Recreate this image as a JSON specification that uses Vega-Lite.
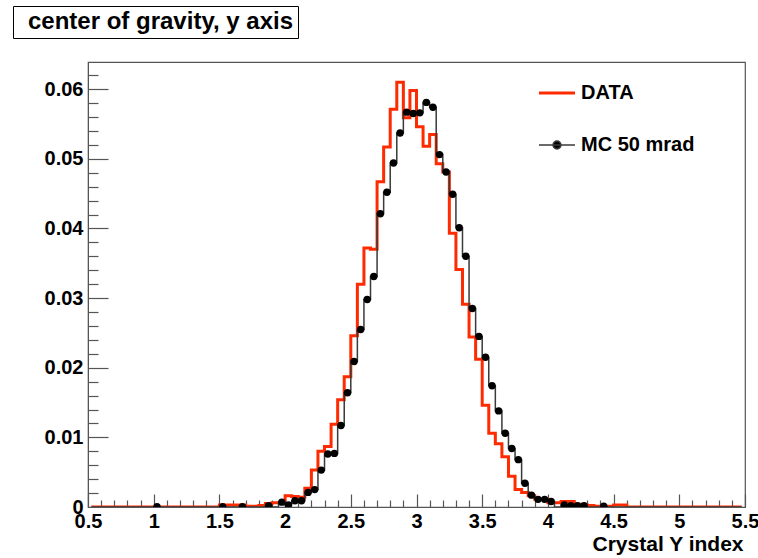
{
  "$schema": "https://vega.github.io/schema/vega-lite/v6.json",
  "width": 657,
  "height": 445,
  "autosize": {"type": "none"},
  "padding": {"left": 88, "top": 62, "right": 13, "bottom": 51},
  "background": "white",
  "data": {"values": [
    {"x":0.525,"data":0,"mc":0},{"x":0.575,"data":0,"mc":0},{"x":0.625,"data":0,"mc":0},{"x":0.675,"data":0,"mc":0},{"x":0.725,"data":0,"mc":0},
    {"x":0.775,"data":0,"mc":0},{"x":0.825,"data":0,"mc":0},{"x":0.875,"data":0,"mc":0},{"x":0.925,"data":0,"mc":0},{"x":0.975,"data":0,"mc":0},
    {"x":1.025,"data":0,"mc":0.00005},{"x":1.075,"data":0,"mc":0},{"x":1.125,"data":0,"mc":0},{"x":1.175,"data":0,"mc":0},{"x":1.225,"data":0,"mc":0},
    {"x":1.275,"data":0,"mc":0},{"x":1.325,"data":0,"mc":0},{"x":1.375,"data":0,"mc":0},{"x":1.425,"data":0,"mc":0},{"x":1.475,"data":0,"mc":0},
    {"x":1.525,"data":0.0003,"mc":0.00005},{"x":1.575,"data":0.0003,"mc":0},{"x":1.625,"data":0.0003,"mc":0},{"x":1.675,"data":0.0003,"mc":0.00005},{"x":1.725,"data":0.0001,"mc":0},
    {"x":1.775,"data":0.0001,"mc":0},{"x":1.825,"data":0.0002,"mc":0},{"x":1.875,"data":0.0005,"mc":0.0002},{"x":1.925,"data":0.0006,"mc":0},{"x":1.975,"data":0.0006,"mc":0.0007},
    {"x":2.025,"data":0.0016,"mc":0.0003},{"x":2.075,"data":0.0015,"mc":0.0009},{"x":2.125,"data":0.0014,"mc":0.0009},{"x":2.175,"data":0.0027,"mc":0.0021},{"x":2.225,"data":0.0053,"mc":0.0025},
    {"x":2.275,"data":0.0080,"mc":0.0053},{"x":2.325,"data":0.0087,"mc":0.0076},{"x":2.375,"data":0.0119,"mc":0.0077},{"x":2.425,"data":0.0154,"mc":0.0117},{"x":2.475,"data":0.0187,"mc":0.0164},
    {"x":2.525,"data":0.0246,"mc":0.0209},{"x":2.575,"data":0.0320,"mc":0.0255},{"x":2.625,"data":0.0372,"mc":0.0298},{"x":2.675,"data":0.0370,"mc":0.0331},{"x":2.725,"data":0.0467,"mc":0.0421},
    {"x":2.775,"data":0.0517,"mc":0.0452},{"x":2.825,"data":0.0571,"mc":0.0494},{"x":2.875,"data":0.0610,"mc":0.0537},{"x":2.925,"data":0.0559,"mc":0.0567},{"x":2.975,"data":0.0598,"mc":0.0565},
    {"x":3.025,"data":0.0546,"mc":0.0566},{"x":3.075,"data":0.0518,"mc":0.0581},{"x":3.125,"data":0.0535,"mc":0.0574},{"x":3.175,"data":0.0493,"mc":0.0506},{"x":3.225,"data":0.0481,"mc":0.0481},
    {"x":3.275,"data":0.0393,"mc":0.0449},{"x":3.325,"data":0.0341,"mc":0.0401},{"x":3.375,"data":0.0291,"mc":0.0360},{"x":3.425,"data":0.0244,"mc":0.0285},{"x":3.475,"data":0.0212,"mc":0.0245},
    {"x":3.525,"data":0.0146,"mc":0.0215},{"x":3.575,"data":0.0106,"mc":0.0174},{"x":3.625,"data":0.0091,"mc":0.0138},{"x":3.675,"data":0.0072,"mc":0.0106},{"x":3.725,"data":0.0044,"mc":0.0084},
    {"x":3.775,"data":0.0025,"mc":0.0068},{"x":3.825,"data":0.0021,"mc":0.0034},{"x":3.875,"data":0.0016,"mc":0.0017},{"x":3.925,"data":0.0011,"mc":0.0011},{"x":3.975,"data":0.0011,"mc":0.0011},
    {"x":4.025,"data":0.0006,"mc":0.0008},{"x":4.075,"data":0.0006,"mc":0},{"x":4.125,"data":0.0008,"mc":0.0003},{"x":4.175,"data":0.0008,"mc":0.0002},{"x":4.225,"data":0.0004,"mc":0.0002},
    {"x":4.275,"data":0.0003,"mc":0.0002},{"x":4.325,"data":0.0002,"mc":0},{"x":4.375,"data":0.0001,"mc":0},{"x":4.425,"data":0.0001,"mc":0.0001},{"x":4.475,"data":0.0001,"mc":0},
    {"x":4.525,"data":0.0003,"mc":0},{"x":4.575,"data":0.0003,"mc":0},{"x":4.625,"data":0,"mc":0},{"x":4.675,"data":0,"mc":0},{"x":4.725,"data":0,"mc":0},
    {"x":4.775,"data":0,"mc":0},{"x":4.825,"data":0,"mc":0},{"x":4.875,"data":0,"mc":0},{"x":4.925,"data":0,"mc":0},{"x":4.975,"data":0,"mc":0},
    {"x":5.025,"data":0,"mc":0},{"x":5.075,"data":0,"mc":0},{"x":5.125,"data":0,"mc":0},{"x":5.175,"data":0,"mc":0},{"x":5.225,"data":0,"mc":0},
    {"x":5.275,"data":0,"mc":0},{"x":5.325,"data":0,"mc":0},{"x":5.375,"data":0,"mc":0},{"x":5.425,"data":0,"mc":0},{"x":5.475,"data":0,"mc":0}
  ]},
  "layer": [
    {
      "mark": {"type": "line", "interpolate": "step", "strokeWidth": 3, "clip": true},
      "encoding": {
        "x": {"field": "x", "type": "quantitative",
          "scale": {"domain": [0.5, 5.5], "nice": false, "zero": false},
          "axis": {"orient": "bottom", "values": [0.5,1,1.5,2,2.5,3,3.5,4,4.5,5,5.5], "format": "~g",
            "ticks": false, "tickSize": 0, "domain": true, "labelPadding": 4, "labelFlush": false, "labelOverlap": false,
            "title": "Crystal Y index", "titleAnchor": "end", "titleAlign": "right", "titleX": 655, "titleY": 43,
            "titleBaseline": "alphabetic", "titleFont": "Liberation Sans", "titleFontSize": 21, "titleFontWeight": "bold", "titleColor": "black"}},
        "y": {"field": "data", "type": "quantitative",
          "scale": {"domain": [0, 0.0639], "nice": false, "zero": true},
          "axis": {"orient": "left", "values": [0,0.01,0.02,0.03,0.04,0.05,0.06], "format": "~g",
            "ticks": false, "tickSize": 0, "domain": true, "labelPadding": 5, "labelOverlap": false, "title": null}},
        "color": {"datum": "DATA", "type": "nominal",
          "scale": {"domain": ["DATA", "MC 50 mrad"], "range": ["#ff2b00", "#3a3a3a"]},
          "legend": {"orient": "none", "legendX": 459, "legendY": 21, "title": null, "padding": 0,
            "symbolType": "stroke", "symbolSize": 1296, "labelOffset": 14, "rowPadding": 32,
            "labelFont": "Liberation Sans", "labelFontWeight": "bold", "labelFontSize": 20, "labelColor": "black",
            "encode": {"symbols": {"update": {
              "shape": {"signal": "datum.value == 'DATA' ? 'stroke' : 'M-1,0H1M-0.22,0A0.22,0.22,0,1,0,0.22,0A0.22,0.22,0,1,0,-0.22,0Z'"},
              "fill": {"signal": "datum.value == 'DATA' ? 'transparent' : '#000000'"},
              "strokeWidth": {"signal": "datum.value == 'DATA' ? 3 : 1.5"}
            }}}}
        }
      }
    },
    {
      "mark": {"type": "line", "interpolate": "step", "strokeWidth": 1.5, "clip": true},
      "encoding": {
        "x": {"field": "x", "type": "quantitative",
          "scale": {"domain": [0.5, 5.5], "nice": false, "zero": false},
          "axis": {"orient": "bottom", "values": [0.5,1,1.5,2,2.5,3,3.5,4,4.5,5,5.5], "labels": false,
            "domain": false, "ticks": true, "offset": -13, "tickSize": 13, "tickWidth": 1.2, "title": null}},
        "y": {"field": "mc", "type": "quantitative",
          "scale": {"domain": [0, 0.0639], "nice": false, "zero": true},
          "axis": {"orient": "left", "values": [0.01,0.02,0.03,0.04,0.05,0.06], "labels": false,
            "domain": false, "ticks": true, "offset": -20, "tickSize": 20, "tickWidth": 1.2, "title": null}},
        "color": {"datum": "MC 50 mrad", "type": "nominal"}
      }
    },
    {
      "transform": [{"filter": "datum.mc > 0"}],
      "mark": {"type": "point", "filled": true, "size": 55, "color": "#000000", "opacity": 1, "clip": true},
      "encoding": {
        "x": {"field": "x", "type": "quantitative",
          "scale": {"domain": [0.5, 5.5], "nice": false, "zero": false},
          "axis": {"orient": "bottom",
            "values": [0.6,0.7,0.8,0.9,1.1,1.2,1.3,1.4,1.6,1.7,1.8,1.9,2.1,2.2,2.3,2.4,2.6,2.7,2.8,2.9,3.1,3.2,3.3,3.4,3.6,3.7,3.8,3.9,4.1,4.2,4.3,4.4,4.6,4.7,4.8,4.9,5.1,5.2,5.3,5.4],
            "labels": false, "domain": false, "ticks": true, "offset": -7, "tickSize": 7, "tickWidth": 1.2, "title": null}},
        "y": {"field": "mc", "type": "quantitative",
          "scale": {"domain": [0, 0.0639], "nice": false, "zero": true},
          "axis": {"orient": "left",
            "values": [0.002,0.004,0.006,0.008,0.012,0.014,0.016,0.018,0.022,0.024,0.026,0.028,0.032,0.034,0.036,0.038,0.042,0.044,0.046,0.048,0.052,0.054,0.056,0.058,0.062],
            "labels": false, "domain": false, "ticks": true, "offset": -10, "tickSize": 10, "tickWidth": 1.2, "title": null}},
        "shape": {"datum": "center of gravity, y axis", "type": "nominal",
          "scale": {"range": ["circle"]},
          "legend": {"orient": "none", "legendX": -75, "legendY": -56, "title": null, "padding": 4,
            "strokeColor": "#000000", "symbolSize": 0, "symbolOpacity": 0, "symbolStrokeWidth": 0,
            "labelOffset": -13, "labelLimit": 500, "labelFont": "Liberation Sans", "labelFontWeight": "bold",
            "labelFontSize": 24, "labelColor": "black"}}
      }
    }
  ],
  "resolve": {"axis": {"x": "independent", "y": "independent"}},
  "config": {
    "font": "Liberation Sans",
    "axis": {"labelFont": "Liberation Sans", "labelFontWeight": "bold", "labelFontSize": 20, "labelColor": "black",
      "domainColor": "#555555", "tickColor": "#555555", "grid": false},
    "view": {"stroke": "#555555", "strokeWidth": 1.2}
  }
}
